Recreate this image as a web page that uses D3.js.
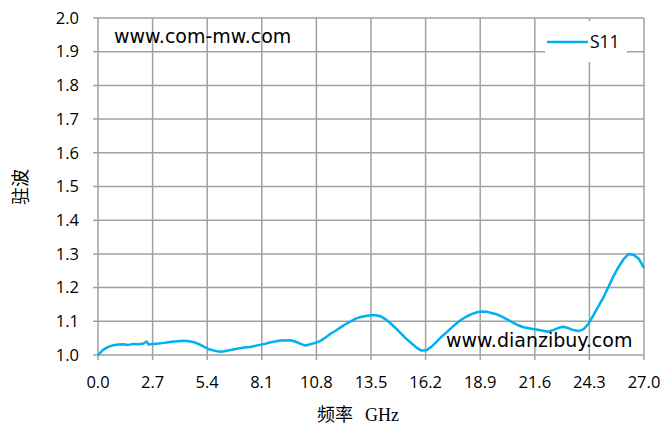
<!DOCTYPE html>
<html>
<head>
<meta charset="utf-8">
<script src="https://cdn.jsdelivr.net/npm/d3@7"></script>
<style>
  body { margin: 0; background: #fff; }
  svg text { fill: #000; }
</style>
</head>
<body>
<div id="chart"></div>
<script>
// S11 standing wave ratio data
const freqs = [
  0, 0.25, 0.5, 0.75, 1, 1.25, 1.5, 1.75, 2, 2.25, 2.4, 2.5, 2.75, 3, 3.25, 3.5, 3.75, 4, 4.25, 4.5, 4.75,
  5, 5.25, 5.5, 5.75, 6, 6.25, 6.5, 6.75, 7, 7.25, 7.5, 7.75, 8, 8.25, 8.5, 8.75, 9, 9.25, 9.5, 9.75,
  10, 10.25, 10.5, 10.75, 11, 11.25, 11.5, 11.75, 12, 12.25, 12.5, 12.75, 13, 13.25, 13.5, 13.75,
  14, 14.25, 14.5, 14.75, 15, 15.25, 15.5, 15.75, 16, 16.25, 16.5, 16.75, 17, 17.25, 17.5, 17.75,
  18, 18.25, 18.5, 18.75, 19, 19.25, 19.5, 19.75, 20, 20.25, 20.5, 20.75, 21, 21.25, 21.5, 21.75,
  22, 22.25, 22.5, 22.75, 23, 23.25, 23.5, 23.75, 24, 24.25, 24.5, 24.75, 25, 25.25, 25.5, 25.75,
  26, 26.25, 26.5, 26.75, 27
];
const s11 = [
  1.000, 1.015, 1.024, 1.029, 1.031, 1.032, 1.030, 1.033, 1.032, 1.034, 1.040, 1.031, 1.033, 1.034, 1.036, 1.038, 1.040, 1.041, 1.042, 1.041, 1.038,
  1.032, 1.024, 1.017, 1.013, 1.010, 1.011, 1.014, 1.017, 1.020, 1.022, 1.024, 1.027, 1.030, 1.033, 1.037, 1.040, 1.043, 1.043, 1.044, 1.040,
  1.034, 1.028, 1.032, 1.036, 1.042, 1.052, 1.063, 1.072, 1.082, 1.092, 1.100, 1.108, 1.113, 1.116, 1.118, 1.118,
  1.114, 1.105, 1.092, 1.078, 1.063, 1.048, 1.035, 1.022, 1.013, 1.014, 1.025, 1.040, 1.055, 1.068, 1.082, 1.095,
  1.106, 1.115, 1.122, 1.127, 1.129, 1.128, 1.124, 1.120, 1.113, 1.105, 1.097, 1.089, 1.083, 1.080, 1.077, 1.075,
  1.072, 1.069, 1.074, 1.080, 1.084, 1.080, 1.074, 1.071, 1.076, 1.092, 1.118, 1.145, 1.172, 1.203, 1.235, 1.262,
  1.285, 1.300, 1.297, 1.285, 1.258
];
const xTicks = [0, 2.7, 5.4, 8.1, 10.8, 13.5, 16.2, 18.9, 21.6, 24.3, 27.0];
const yTicks = [1.0, 1.1, 1.2, 1.3, 1.4, 1.5, 1.6, 1.7, 1.8, 1.9, 2.0];

const W = 666, H = 428;
const margin = { top: 18, right: 22, bottom: 73, left: 98 };
const gridColor = "#a0a0a0";
const lineColor = "#00b0f0";
const labelFont = "'Open Sans', 'DejaVu Sans', sans-serif";

const svg = d3.select("#chart").append("svg")
    .attr("width", W)
    .attr("height", H);

const x = d3.scaleLinear().domain([0, 27]).range([margin.left, W - margin.right]);
const y = d3.scaleLinear().domain([1, 2]).range([H - margin.bottom, margin.top]);

// grid
svg.append("g").selectAll("line")
    .data(yTicks)
    .enter().append("line")
    .attr("x1", margin.left - 5)
    .attr("x2", W - margin.right)
    .attr("y1", d => y(d))
    .attr("y2", d => y(d))
    .style("stroke", gridColor)
    .style("stroke-width", 1.5);

svg.append("g").selectAll("line")
    .data(xTicks)
    .enter().append("line")
    .attr("x1", d => x(d))
    .attr("x2", d => x(d))
    .attr("y1", margin.top)
    .attr("y2", H - margin.bottom + 5)
    .style("stroke", gridColor)
    .style("stroke-width", 1.5);

// tick labels
svg.append("g").selectAll("text")
    .data(yTicks)
    .enter().append("text")
    .attr("x", margin.left - 19)
    .attr("y", d => y(d))
    .attr("dy", "0.35em")
    .attr("text-anchor", "end")
    .style("font-family", labelFont)
    .style("font-size", "16.5px")
    .text(d => d.toFixed(1));

svg.append("g").selectAll("text")
    .data(xTicks)
    .enter().append("text")
    .attr("x", d => x(d))
    .attr("y", H - margin.bottom + 33)
    .attr("text-anchor", "middle")
    .style("font-family", labelFont)
    .style("font-size", "16.5px")
    .text(d => d.toFixed(1));

// axis titles
svg.append("text")
    .attr("transform", "translate(27,187) rotate(-90)")
    .attr("text-anchor", "middle")
    .style("font-family", "'Noto Sans CJK SC', sans-serif")
    .style("font-size", "18px")
    .text("驻波");

svg.append("text")
    .attr("x", 317)
    .attr("y", 421)
    .style("font-family", "'Noto Sans CJK SC', sans-serif")
    .style("font-size", "18px")
    .text("频率");

svg.append("text")
    .attr("x", 399)
    .attr("y", 421)
    .attr("text-anchor", "end")
    .style("font-family", "'Liberation Serif', serif")
    .style("font-size", "18px")
    .text("GHz");

// the S11 line
const line = d3.line()
    .x((d, i) => x(freqs[i]))
    .y(d => y(d));

svg.append("path")
    .datum(s11)
    .attr("d", line)
    .style("fill", "none")
    .style("stroke", lineColor)
    .style("stroke-width", 2.5)
    .style("stroke-linejoin", "round");

// legend
svg.append("rect")
    .attr("x", 545)
    .attr("y", 21)
    .attr("width", 82)
    .attr("height", 41)
    .style("fill", "#fff");

svg.append("line")
    .attr("x1", 547).attr("x2", 588)
    .attr("y1", 42).attr("y2", 42)
    .style("stroke", lineColor)
    .style("stroke-width", 2.5);

svg.append("text")
    .attr("x", 590)
    .attr("y", 42)
    .attr("dy", "0.35em")
    .style("font-family", labelFont)
    .style("font-size", "17.5px")
    .text("S11");

// watermarks
svg.append("text")
    .attr("x", 114)
    .attr("y", 43)
    .style("font-family", "'DejaVu Sans', sans-serif")
    .style("font-size", "19px")
    .text("www.com-mw.com");

svg.append("text")
    .attr("x", 446)
    .attr("y", 347)
    .style("font-family", "'DejaVu Sans', sans-serif")
    .style("font-size", "19px")
    .text("www.dianzibuy.com");
</script>
</body>
</html>
